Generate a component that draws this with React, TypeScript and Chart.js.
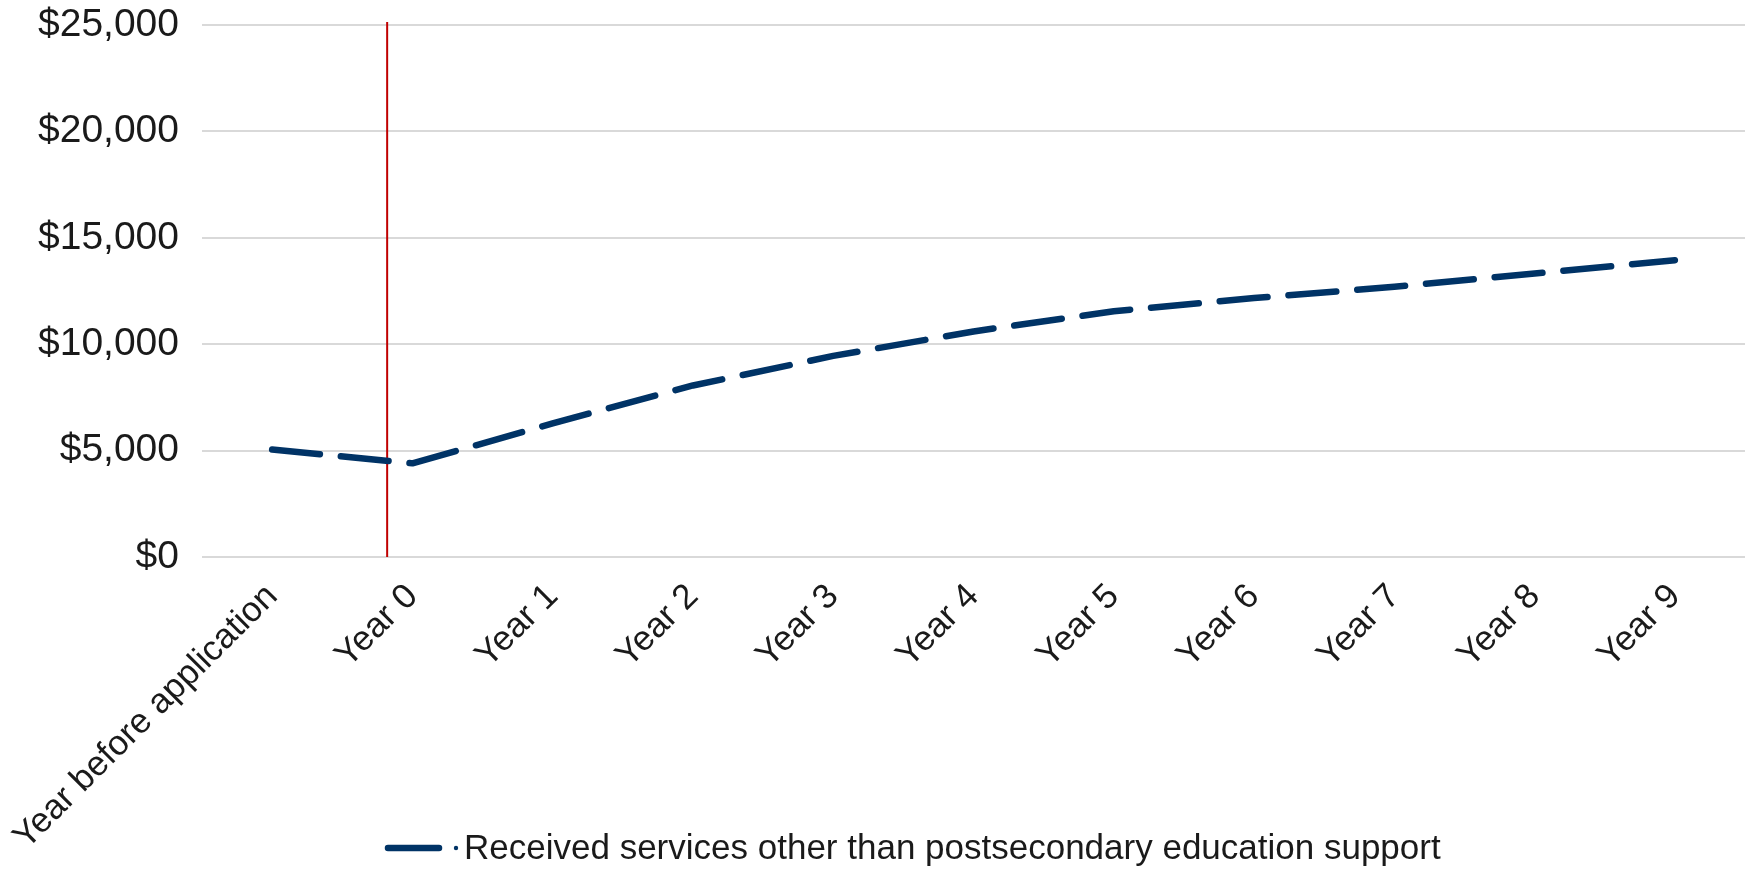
import React, { useEffect, useRef } from "react";
import { Chart, registerables } from "chart.js";

Chart.register(...registerables);

const categories = [
  "Year before application",
  "Year 0",
  "Year 1",
  "Year 2",
  "Year 3",
  "Year 4",
  "Year 5",
  "Year 6",
  "Year 7",
  "Year 8",
  "Year 9",
];
const seriesLabel = "Received services other than postsecondary education support";
const seriesValues = [5050, 4400, 6280, 8060, 9450, 10600, 11550, 12170, 12700, 13320, 13950];
const yMin = 0;
const yMax = 25000;
const yStep = 5000;
const markerPosition = 0.82; // category index where the red reference line sits

const FONT = "'Liberation Sans', Arial, sans-serif";
const TEXT_COLOR = "#1a1a1a";

const markerLine = {
  id: "markerLine",
  beforeDatasetsDraw(chart: any) {
    const ctx = chart.ctx;
    const x = chart.scales.x.getPixelForValue(markerPosition);
    const { top, bottom } = chart.chartArea;
    ctx.save();
    ctx.strokeStyle = "#C00000";
    ctx.lineWidth = 2;
    ctx.beginPath();
    ctx.moveTo(x, top - 3);
    ctx.lineTo(x, bottom);
    ctx.stroke();
    ctx.restore();
  },
};

// Legend drawn below the rotated category labels (which overlap the legend band)
const bottomLegend = {
  id: "bottomLegend",
  afterDraw(chart: any) {
    const ctx = chart.ctx;
    const ds = chart.data.datasets[0];
    const y = chart.height - 22;
    const left = 388;
    ctx.save();
    ctx.strokeStyle = ds.borderColor;
    ctx.fillStyle = ds.borderColor;
    ctx.lineWidth = ds.borderWidth;
    ctx.lineCap = "round";
    ctx.beginPath();
    ctx.moveTo(left, y);
    ctx.lineTo(left + 51, y);
    ctx.stroke();
    ctx.beginPath();
    ctx.arc(left + 68, y, 2.2, 0, Math.PI * 2);
    ctx.fill();
    ctx.font = `35px ${FONT}`;
    ctx.fillStyle = TEXT_COLOR;
    ctx.textBaseline = "middle";
    ctx.textAlign = "left";
    ctx.fillText(ds.label, left + 76, y + 1);
    ctx.restore();
  },
};

export default function App() {
  const ref = useRef<HTMLCanvasElement | null>(null);

  useEffect(() => {
    if (!ref.current) return;
    const chart = new Chart(ref.current, {
      type: "line",
      data: {
        labels: categories,
        datasets: [
          {
            label: seriesLabel,
            data: seriesValues,
            borderColor: "#003366",
            backgroundColor: "#003366",
            borderWidth: 6.5,
            borderDash: [48, 21],
            borderCapStyle: "round",
            borderJoinStyle: "round",
            pointRadius: 0,
            tension: 0,
            fill: false,
          },
        ],
      },
      options: {
        responsive: false,
        animation: false,
        layout: { padding: { top: 25, left: 0, right: 9, bottom: 0 } },
        plugins: {
          legend: { display: false },
          tooltip: { enabled: false },
        },
        scales: {
          x: {
            offset: true,
            grid: { display: false, drawTicks: false, offset: true },
            border: { display: false },
            ticks: {
              color: TEXT_COLOR,
              font: { family: FONT, size: 35 },
              maxRotation: 45,
              minRotation: 45,
              padding: 19,
              autoSkip: false,
            },
            afterFit: (scale: any) => {
              scale.height = 313;
              scale.paddingLeft = 0;
              scale.paddingRight = 0;
            },
          },
          y: {
            min: yMin,
            max: yMax,
            grid: { color: "#d9d9d9", lineWidth: 2, drawTicks: false },
            border: { display: false },
            ticks: {
              stepSize: yStep,
              color: TEXT_COLOR,
              font: { family: FONT, size: 39 },
              padding: 23,
              callback: (v: any) => "$" + Number(v).toLocaleString("en-US"),
            },
            afterFit: (scale: any) => {
              scale.width = 202;
              scale.paddingTop = 0;
              scale.paddingBottom = 0;
            },
          },
        },
      },
      plugins: [markerLine, bottomLegend],
    });
    return () => chart.destroy();
  }, []);

  return (
    <div style={{ position: "fixed", left: 0, top: 0, width: 1754, height: 870, background: "#fff" }}>
      <canvas ref={ref} width={1754} height={870} style={{ display: "block" }} />
    </div>
  );
}
